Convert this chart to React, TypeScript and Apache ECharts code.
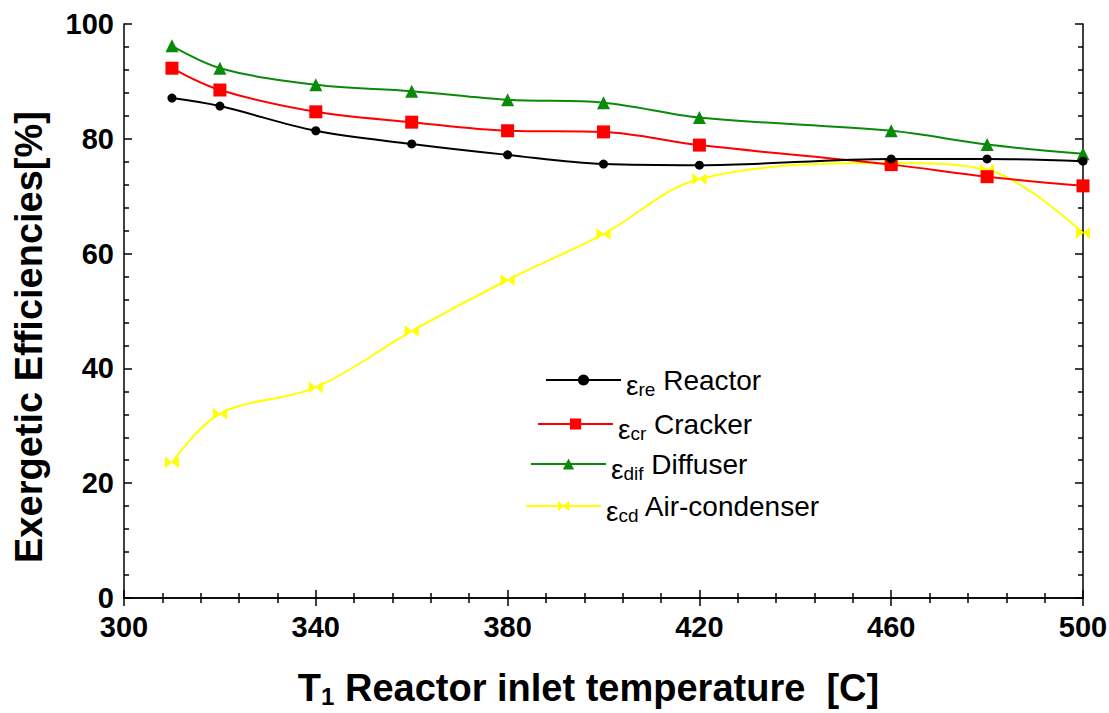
import React, { useEffect, useRef } from "react";
import * as echarts from "echarts";

const temperatures = [310, 320, 340, 360, 380, 400, 420, 460, 480, 500];
const reactor = [87.1, 85.7, 81.4, 79.1, 77.2, 75.6, 75.4, 76.5, 76.5, 76.1];
const cracker = [92.3, 88.5, 84.7, 82.9, 81.4, 81.2, 78.9, 75.5, 73.4, 71.8];
const diffuser = [96.2, 92.3, 89.4, 88.3, 86.8, 86.3, 83.7, 81.4, 79.0, 77.4];
const condenser = [23.6, 32.1, 36.7, 46.5, 55.4, 63.4, 73.0, 75.8, 74.6, 63.6];

const seriesNames = ["Reactor", "Cracker", "Diffuser", "Air-condenser"];
const seriesSubs = ["re", "cr", "dif", "cd"];
const seriesColors = ["#000000", "#ff0000", "#0a8a0a", "#ffff00"];
const seriesSymbols = [
  "circle",
  "rect",
  "triangle",
  "path://M0,0L5,5L0,10Z M10,0L5,5L10,10Z",
];
const seriesSymbolSizes: any[] = [9, 13, 13, [14, 12]];
const seriesData = [reactor, cracker, diffuser, condenser];

const legendPos = [
  { left: 545, top: 361 },
  { left: 537, top: 405 },
  { left: 530, top: 445 },
  { left: 525, top: 487 },
];

const FONT = "'Liberation Sans', Arial, sans-serif";

export default function App() {
  const ref = useRef<HTMLDivElement>(null);
  useEffect(() => {
    if (!ref.current) return;
    const chart = echarts.init(ref.current, undefined, { renderer: "svg" });
    const rich = {
      e: { fontSize: 28, lineHeight: 28, padding: [10, 0, 0, 0], fontFamily: FONT, color: "#000", verticalAlign: "middle" },
      s: { fontSize: 19, lineHeight: 19, padding: [19, 0, 0, 0], fontFamily: FONT, color: "#000", verticalAlign: "middle" },
      n: { fontSize: 28, lineHeight: 28, fontFamily: FONT, color: "#000", verticalAlign: "middle" },
    };
    const legends = seriesNames.map((name, i) => ({
      data: [name],
      left: legendPos[i].left,
      top: legendPos[i].top,
      orient: "vertical",
      itemWidth: 75,
      itemHeight: 14,
      padding: 0,
      selectedMode: false,
      formatter: () => `{e|ε}{s|${seriesSubs[i]}}{n| ${name}}`,
      textStyle: { rich },
    }));
    const axisCommon = {
      axisLine: { show: true, lineStyle: { color: "#000", width: 1.5 } },
      axisTick: { show: true, inside: true, length: 8, lineStyle: { color: "#000", width: 1.5 } },
      minorTick: { show: true, splitNumber: 5, length: 5, lineStyle: { color: "#000", width: 1.5 } },
      splitLine: { show: false },
    };
    const option: any = {
      animation: false,
      backgroundColor: "#ffffff",
      textStyle: { fontFamily: FONT },
      legend: legends,
      grid: { left: 124, right: 26, top: 24, bottom: 115, containLabel: false, outerBoundsMode: "none" },
      xAxis: [
        {
          type: "value",
          min: 300,
          max: 500,
          interval: 40,
          position: "bottom",
          name: "{t|T}{u|1}{t| Reactor inlet temperature  [C]}",
          nameLocation: "middle",
          nameGap: 70,
          nameTextStyle: {
            padding: [0, 30, 0, 0],
            rich: {
              t: { fontSize: 38, fontWeight: "bold", color: "#000", fontFamily: FONT },
              u: { fontSize: 24, fontWeight: "bold", color: "#000", fontFamily: FONT, padding: [16, 0, 0, 0] },
            },
          },
          ...axisCommon,
          axisLabel: { fontSize: 29, fontWeight: "bold", color: "#000", margin: 14, fontFamily: FONT },
        },
        {
          type: "value",
          min: 300,
          max: 500,
          interval: 40,
          position: "top",
          ...axisCommon,
          axisLabel: { show: false },
        },
      ],
      yAxis: [
        {
          type: "value",
          min: 0,
          max: 100,
          interval: 20,
          position: "left",
          name: "Exergetic Efficiencies[%]",
          nameLocation: "middle",
          nameGap: 76,
          nameTextStyle: { fontSize: 38, fontWeight: "bold", color: "#000", fontFamily: FONT, padding: [0, 52, 0, 0] },
          ...axisCommon,
          axisLabel: { fontSize: 29, fontWeight: "bold", color: "#000", margin: 10, fontFamily: FONT },
        },
        {
          type: "value",
          min: 0,
          max: 100,
          interval: 20,
          position: "right",
          ...axisCommon,
          axisLabel: { show: false },
        },
      ],
      series: seriesNames.map((name, i) => ({
        name,
        type: "line",
        xAxisIndex: 0,
        yAxisIndex: 0,
        smooth: 0.35,
        data: temperatures.map((t, j) => [t, seriesData[i][j]]),
        symbol: seriesSymbols[i],
        symbolSize: seriesSymbolSizes[i],
        showSymbol: true,
        color: seriesColors[i],
        lineStyle: { color: seriesColors[i], width: 2 },
        itemStyle: { color: seriesColors[i], borderWidth: 0 },
        z: 10 - i,
      })),
    };
    chart.setOption(option);
    return () => chart.dispose();
  }, []);
  return (
    <div
      ref={ref}
      style={{ position: "fixed", left: 0, top: 0, width: 1109, height: 713, background: "#fff" }}
    />
  );
}
